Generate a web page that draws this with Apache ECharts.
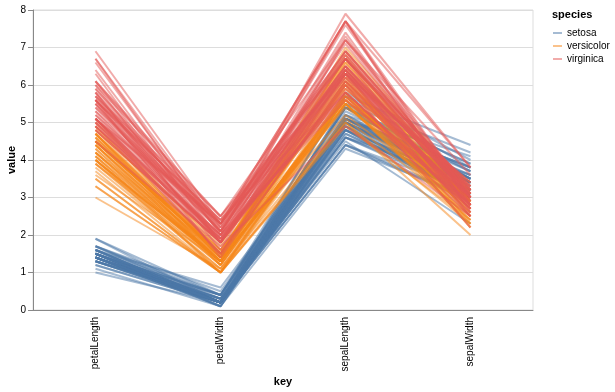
<!DOCTYPE html>
<html>
<head>
<meta charset="utf-8">
<script src="https://cdn.jsdelivr.net/npm/echarts@6/dist/echarts.min.js"></script>
<style>html,body{margin:0;padding:0;background:#fff}#c{width:615px;height:392px}</style>
</head>
<body>
<div id="c"></div>
<script>
var keys = ['petalLength', 'petalWidth', 'sepalLength', 'sepalWidth'];
var speciesNames = ['setosa', 'versicolor', 'virginica'];
var speciesColors = ['#4c78a8', '#f58518', '#e45756'];
var yTicks = [0, 1, 2, 3, 4, 5, 6, 7, 8];

var setosaSepalLength = [5.1,4.9,4.7,4.6,5.0,5.4,4.6,5.0,4.4,4.9,5.4,4.8,4.8,4.3,5.8,5.7,5.4,5.1,5.7,5.1,5.4,5.1,4.6,5.1,4.8,5.0,5.0,5.2,5.2,4.7,4.8,5.4,5.2,5.5,4.9,5.0,5.5,4.9,4.4,5.1,5.0,4.5,4.4,5.0,5.1,4.8,5.1,4.6,5.3,5.0];
var setosaSepalWidth  = [3.5,3.0,3.2,3.1,3.6,3.9,3.4,3.4,2.9,3.1,3.7,3.4,3.0,3.0,4.0,4.4,3.9,3.5,3.8,3.8,3.4,3.7,3.6,3.3,3.4,3.0,3.4,3.5,3.4,3.2,3.1,3.4,4.1,4.2,3.1,3.2,3.5,3.6,3.0,3.4,3.5,2.3,3.2,3.5,3.8,3.0,3.8,3.2,3.7,3.3];
var setosaPetalLength = [1.4,1.4,1.3,1.5,1.4,1.7,1.4,1.5,1.4,1.5,1.5,1.6,1.4,1.1,1.2,1.5,1.3,1.4,1.7,1.5,1.7,1.5,1.0,1.7,1.9,1.6,1.6,1.5,1.4,1.6,1.6,1.5,1.5,1.4,1.5,1.2,1.3,1.4,1.3,1.5,1.3,1.3,1.3,1.6,1.9,1.4,1.6,1.4,1.5,1.4];
var setosaPetalWidth  = [0.2,0.2,0.2,0.2,0.2,0.4,0.3,0.2,0.2,0.1,0.2,0.2,0.1,0.1,0.2,0.4,0.4,0.3,0.3,0.3,0.2,0.4,0.2,0.5,0.2,0.2,0.4,0.2,0.2,0.2,0.2,0.4,0.1,0.2,0.2,0.2,0.2,0.1,0.2,0.2,0.3,0.3,0.2,0.6,0.4,0.3,0.2,0.2,0.2,0.2];

var versicolorSepalLength = [7.0,6.4,6.9,5.5,6.5,5.7,6.3,4.9,6.6,5.2,5.0,5.9,6.0,6.1,5.6,6.7,5.6,5.8,6.2,5.6,5.9,6.1,6.3,6.1,6.4,6.6,6.8,6.7,6.0,5.7,5.5,5.5,5.8,6.0,5.4,6.0,6.7,6.3,5.6,5.5,5.5,6.1,5.8,5.0,5.6,5.7,5.7,6.2,5.1,5.7];
var versicolorSepalWidth  = [3.2,3.2,3.1,2.3,2.8,2.8,3.3,2.4,2.9,2.7,2.0,3.0,2.2,2.9,2.9,3.1,3.0,2.7,2.2,2.5,3.2,2.8,2.5,2.8,2.9,3.0,2.8,3.0,2.9,2.6,2.4,2.4,2.7,2.7,3.0,3.4,3.1,2.3,3.0,2.5,2.6,3.0,2.6,2.3,2.7,3.0,2.9,2.9,2.5,2.8];
var versicolorPetalLength = [4.7,4.5,4.9,4.0,4.6,4.5,4.7,3.3,4.6,3.9,3.5,4.2,4.0,4.7,3.6,4.4,4.5,4.1,4.5,3.9,4.8,4.0,4.9,4.7,4.3,4.4,4.8,5.0,4.5,3.5,3.8,3.7,3.9,5.1,4.5,4.5,4.7,4.4,4.1,4.0,4.4,4.6,4.0,3.3,4.2,4.2,4.2,4.3,3.0,4.1];
var versicolorPetalWidth  = [1.4,1.5,1.5,1.3,1.5,1.3,1.6,1.0,1.3,1.4,1.0,1.5,1.0,1.4,1.3,1.4,1.5,1.0,1.5,1.1,1.8,1.3,1.5,1.2,1.3,1.4,1.4,1.7,1.5,1.0,1.1,1.0,1.2,1.6,1.5,1.6,1.5,1.3,1.3,1.3,1.2,1.4,1.2,1.0,1.3,1.2,1.3,1.3,1.1,1.3];

var virginicaSepalLength = [6.3,5.8,7.1,6.3,6.5,7.6,4.9,7.3,6.7,7.2,6.5,6.4,6.8,5.7,5.8,6.4,6.5,7.7,7.7,6.0,6.9,5.6,7.7,6.3,6.7,7.2,6.2,6.1,6.4,7.2,7.4,7.9,6.4,6.3,6.1,7.7,6.3,6.4,6.0,6.9,6.7,6.9,5.8,6.8,6.7,6.7,6.3,6.5,6.2,5.9];
var virginicaSepalWidth  = [3.3,2.7,3.0,2.9,3.0,3.0,2.5,2.9,2.5,3.6,3.2,2.7,3.0,2.5,2.8,3.2,3.0,3.8,2.6,2.2,3.2,2.8,2.8,2.7,3.3,3.2,2.8,3.0,2.8,3.0,2.8,3.8,2.8,2.8,2.6,3.0,3.4,3.1,3.0,3.1,3.1,3.1,2.7,3.2,3.3,3.0,2.5,3.0,3.4,3.0];
var virginicaPetalLength = [6.0,5.1,5.9,5.6,5.8,6.6,4.5,6.3,5.8,6.1,5.1,5.3,5.5,5.0,5.1,5.3,5.5,6.7,6.9,5.0,5.7,4.9,6.7,4.9,5.7,6.0,4.8,4.9,5.6,5.8,6.1,6.4,5.6,5.1,5.6,6.1,5.6,5.5,4.8,5.4,5.6,5.1,5.1,5.9,5.7,5.2,5.0,5.2,5.4,5.1];
var virginicaPetalWidth  = [2.5,1.9,2.1,1.8,2.2,2.1,1.7,1.8,1.8,2.5,2.0,1.9,2.1,2.0,2.4,2.3,1.8,2.2,2.3,1.5,2.3,2.0,2.0,1.8,2.1,1.8,1.8,1.8,2.1,1.6,1.9,2.0,2.2,1.5,1.4,2.3,2.4,1.8,1.8,2.1,2.4,2.3,1.9,2.3,2.5,2.3,1.9,2.0,2.3,1.8];

var groups = [
  [setosaPetalLength, setosaPetalWidth, setosaSepalLength, setosaSepalWidth],
  [versicolorPetalLength, versicolorPetalWidth, versicolorSepalLength, versicolorSepalWidth],
  [virginicaPetalLength, virginicaPetalWidth, virginicaSepalLength, virginicaSepalWidth]
];

var FONT = 'Liberation Sans, Arial, sans-serif';
var series = [];
groups.forEach(function (g, si) {
  for (var i = 0; i < g[0].length; i++) {
    series.push({
      type: 'line',
      name: speciesNames[si],
      data: [g[0][i], g[1][i], g[2][i], g[3][i]],
      symbol: 'none',
      silent: true,
      animation: false,
      color: speciesColors[si],
      lineStyle: { color: speciesColors[si], width: 2, opacity: 0.5 },
      itemStyle: { color: speciesColors[si] },
      emphasis: { disabled: true }
    });
  }
});

var chart = echarts.init(document.getElementById('c'), null, { renderer: 'canvas' });
chart.setOption({
  animation: false,
  backgroundColor: '#fff',
  textStyle: { fontFamily: FONT },
  grid: { left: 33, right: 82, top: 10, bottom: 82, show: true, borderColor: '#ddd', borderWidth: 1, backgroundColor: 'transparent', containLabel: false, outerBoundsMode: 'none' },
  legend: {
    orient: 'vertical',
    left: 548,
    top: 22,
    data: speciesNames,
    icon: 'rect',
    itemWidth: 9,
    itemHeight: 2,
    itemGap: 1,
    itemStyle: { opacity: 0.5 },
    textStyle: { fontFamily: FONT, fontSize: 10, color: '#000', lineHeight: 12 },
    selectedMode: false
  },
  graphic: [{
    type: 'text',
    left: 552,
    top: 9,
    style: { text: 'species', font: 'bold 11px ' + FONT, fill: '#000' }
  }],
  xAxis: {
    type: 'category',
    data: keys,
    boundaryGap: true,
    name: 'key',
    nameLocation: 'middle',
    nameGap: 66,
    nameMoveOverlap: false,
    nameTextStyle: { fontFamily: FONT, fontWeight: 'bold', fontSize: 11, color: '#000' },
    axisLine: { lineStyle: { color: '#888', width: 1 } },
    axisTick: { alignWithLabel: true, length: 5, lineStyle: { color: '#888' } },
    axisLabel: { rotate: 90, margin: 7, fontSize: 10, color: '#000', fontFamily: FONT },
    splitLine: { show: false }
  },
  yAxis: {
    type: 'value',
    min: yTicks[0],
    max: yTicks[yTicks.length - 1],
    interval: 1,
    name: 'value',
    nameLocation: 'middle',
    nameGap: 16,
    nameMoveOverlap: false,
    nameTextStyle: { fontFamily: FONT, fontWeight: 'bold', fontSize: 11, color: '#000' },
    axisLine: { show: true, lineStyle: { color: '#888', width: 1 } },
    axisTick: { show: true, length: 5, lineStyle: { color: '#888' } },
    axisLabel: { margin: 7, fontSize: 10, color: '#000', fontFamily: FONT },
    splitLine: { show: true, lineStyle: { color: '#ddd', width: 1 } }
  },
  series: series
});
</script>
</body>
</html>
